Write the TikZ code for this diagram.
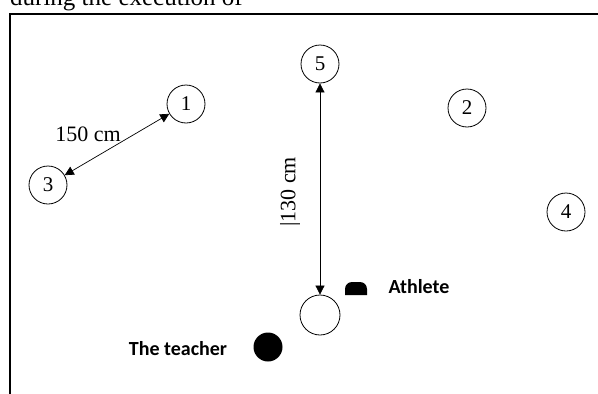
\documentclass[tikz,border=0pt]{standalone}
\usepackage{fontspec}
\setmainfont{Liberation Serif}
\newfontfamily\labelfont{Carlito}
\usetikzlibrary{arrows.meta}
\tikzset{
  cone/.style={circle,draw,line width=0.8pt,minimum size=38pt,inner sep=0pt,font=\fontsize{21}{21}\selectfont},
  dimarrow/.style={line width=0.7pt,{Triangle[length=9pt,width=9pt]}-{Triangle[length=9pt,width=9pt]}},
  dimlabel/.style={font=\fontsize{22}{22}\selectfont,inner sep=0pt},
  boldlabel/.style={font=\labelfont\bfseries\fontsize{20}{20}\selectfont,inner sep=0pt},
}
\begin{document}
\begin{tikzpicture}[x=1pt,y=-1pt]
\useasboundingbox (0,0) rectangle (598,394);
\begin{scope}
\clip (0,0) rectangle (598,394);
\node[anchor=base west,inner sep=0pt,font=\fontsize{25}{25}\selectfont] (top) at (10,5) {during the execution of};
\draw[line width=2.2pt] (10,394) -- (10,14) -- (600,14);
\end{scope}
\node[cone] (c1) at (186,104) {1};
\node[cone] (c3) at (48,185) {3};
\node[cone] (c5) at (320,64) {5};
\node[cone] (c2) at (467,108) {2};
\node[cone] (c4) at (566,212) {4};
\node[circle,draw,line width=0.8pt,minimum size=40pt,inner sep=0pt] (start) at (320,315) {};
\draw[dimarrow] (c3) -- (c1);
\draw[dimarrow] (c5) -- (start);
\node[dimlabel] (l150) at (88,134) {150 cm};
\node[dimlabel,rotate=90] (l130) at (290,192) {|130 cm};
\fill (345,295) -- (345,289) arc[start angle=180,end angle=90,radius=7pt] -- (360,282) arc[start angle=90,end angle=0,radius=7pt] -- (367,295) -- cycle;
\coordinate (athsym) at (356,289);
\node[boldlabel] (ath) at (419,287) {Athlete};
\node[circle,fill,minimum size=29pt,inner sep=0pt] (teach) at (268,347) {};
\node[boldlabel] (teachl) at (178,349) {The teacher};
\end{tikzpicture}
\end{document}
